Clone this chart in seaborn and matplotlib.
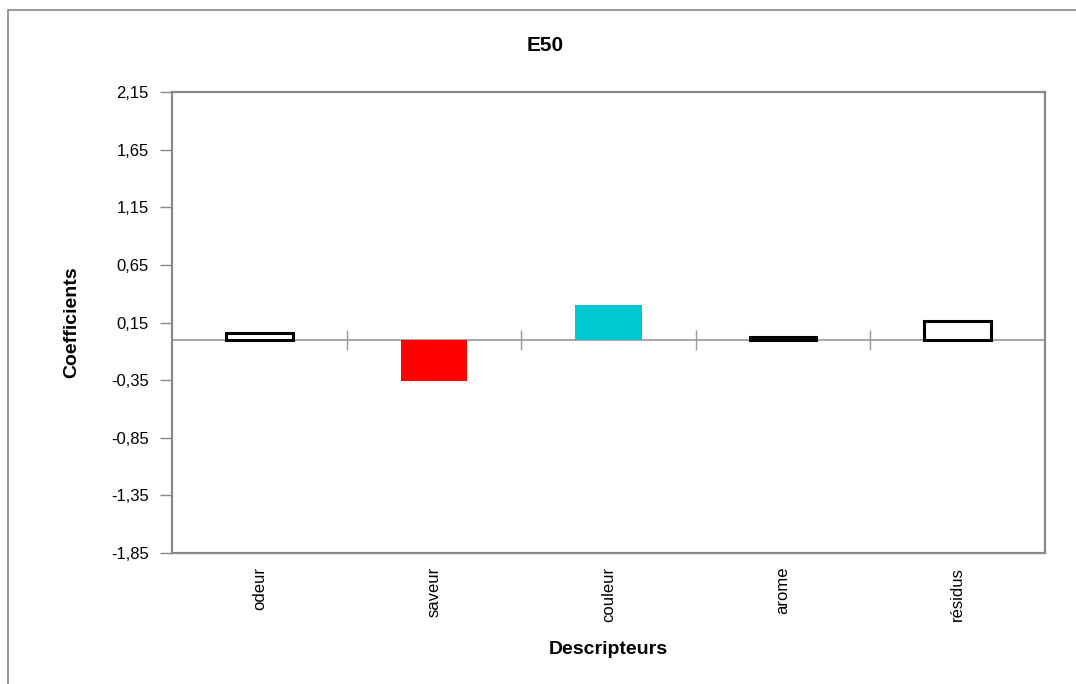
import numpy as np
import pandas as pd
import matplotlib
matplotlib.use('Agg')
import matplotlib.pyplot as plt
import seaborn as sns

# data
descripteurs = ['odeur', 'saveur', 'couleur', 'arome', 'résidus']
coefficients = [0.055, -0.36, 0.30, 0.02, 0.165]
bar_colors = ['white', '#ff0000', '#00c8d2', 'white', 'white']
edge_colors = ['black', 'none', 'none', 'black', 'black']
y_ticks = [2.15, 1.65, 1.15, 0.65, 0.15, -0.35, -0.85, -1.35, -1.85]

sns.set_theme(style='white')
plt.rcParams['font.family'] = ['Liberation Sans', 'DejaVu Sans']
plt.rcParams['text.color'] = 'black'
plt.rcParams['axes.labelcolor'] = 'black'
plt.rcParams['xtick.labelcolor'] = 'black'
plt.rcParams['ytick.labelcolor'] = 'black'

df = pd.DataFrame({'Descripteurs': descripteurs, 'Coefficients': coefficients})

fig = plt.figure(figsize=(10.76, 6.84), dpi=100)
ax = fig.add_axes([0.160, 0.1915, 0.811, 0.674])

sns.barplot(data=df, x='Descripteurs', y='Coefficients', hue='Descripteurs',
            palette=dict(zip(descripteurs, bar_colors)), width=0.38,
            saturation=1, legend=False, ax=ax)
for patch, ec in zip(ax.patches, edge_colors):
    if ec != 'none':
        patch.set_edgecolor(ec)
        patch.set_linewidth(2.2)
    else:
        patch.set_linewidth(0)

ax.set_ylim(min(y_ticks), max(y_ticks))
ax.set_xlim(-0.5, len(descripteurs) - 0.5)
ax.set_yticks(y_ticks)
ax.set_yticklabels([f'{v:.2f}'.replace('.', ',') for v in y_ticks], fontsize=12)
ax.tick_params(axis='y', direction='out', length=9, width=1, color='#888888',
               pad=8, left=True)
ax.tick_params(axis='x', length=0, pad=10)
ax.set_xticks(range(len(descripteurs)))
ax.set_xticklabels(descripteurs, rotation=90, fontsize=12)

for sp in ax.spines.values():
    sp.set_color('#888888')
    sp.set_linewidth(1.6)

# zero line with category separator ticks
zero_frac = (0 - min(y_ticks)) / (max(y_ticks) - min(y_ticks))
sec = ax.secondary_xaxis(zero_frac)
sec.set_xticks(np.arange(0.5, len(descripteurs) - 0.5, 1.0))
sec.set_xticklabels([])
sec.tick_params(direction='inout', length=14, width=1, color='#999999')
sec.spines['bottom'].set_color('#999999')
sec.spines['bottom'].set_linewidth(1.2)
sec.spines['top'].set_visible(False)

ax.set_xlabel('Descripteurs', fontsize=14, fontweight='bold', labelpad=14)
ax.set_ylabel('Coefficients', fontsize=14, fontweight='bold', labelpad=22)
fig.text(0.507, 0.933, 'E50', ha='center', va='center', fontsize=15,
         fontweight='bold')

# outer chart frame
frame = plt.Rectangle((0.007, -0.01), 1.1, 0.995, transform=fig.transFigure,
                      fill=False, edgecolor='#888888', linewidth=1.2)
fig.patches.append(frame)

fig.savefig('out.png', dpi=100)
